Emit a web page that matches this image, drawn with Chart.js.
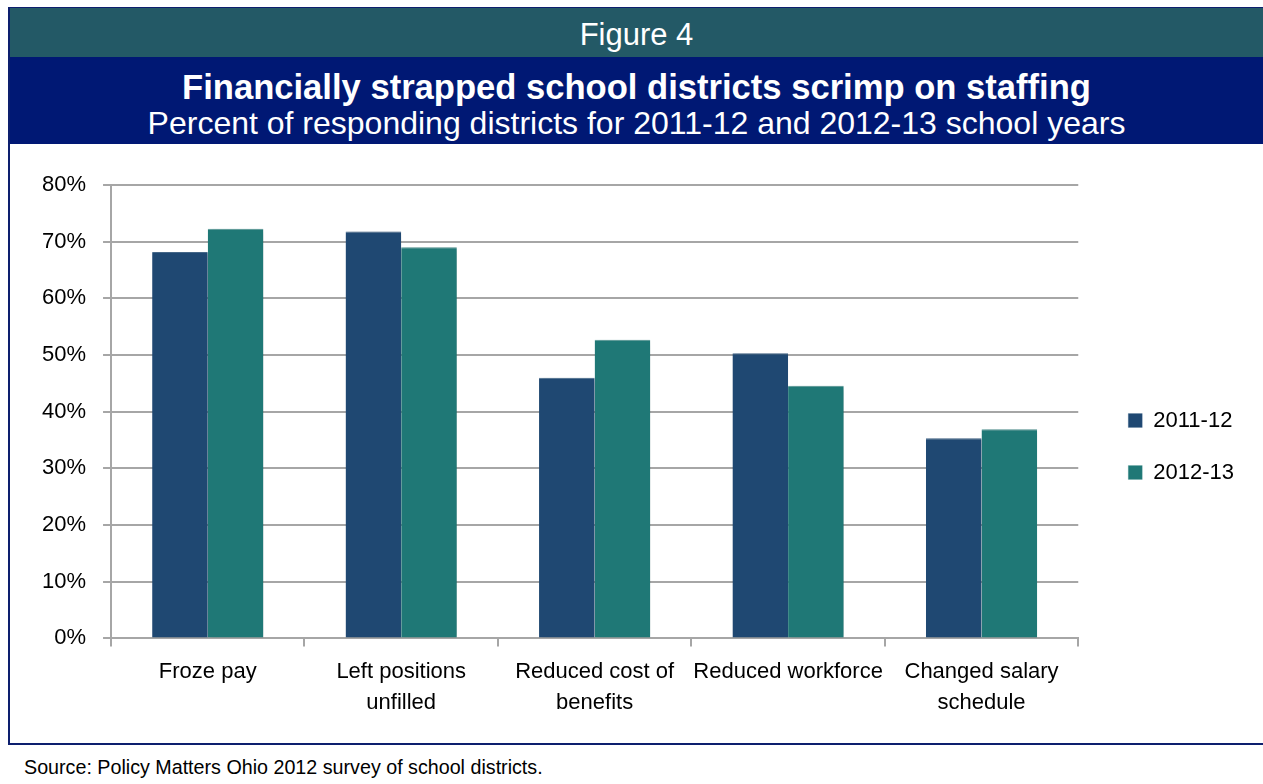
<!DOCTYPE html>
<html>
<head>
<meta charset="utf-8">
<script src="https://cdn.jsdelivr.net/npm/chart.js@4.4.0/dist/chart.umd.min.js"></script>
<style>
  html, body { margin: 0; padding: 0; background: #fff; }
  body { width: 1263px; height: 784px; position: relative; overflow: hidden; font-family: "Liberation Sans", Arial, sans-serif; }
  #frame { position: absolute; left: 8px; top: 7px; width: 1255px; height: 738px; border-left: 2px solid #0d1f6e; border-top: 1px solid #0d1f6e; border-bottom: 2px solid #0d1f6e; box-sizing: border-box; }
  #fig { position: absolute; left: 0; top: 0; right: 0; height: 49px; background: #235966; color: #fff; font-size: 31px; text-align: center; line-height: 54px; }
  #head { position: absolute; left: 0; top: 49px; right: 0; height: 87px; background: #001874; color: #fff; text-align: center; }
  #title { font-size: 34.6px; font-weight: bold; margin-top: 12px; line-height: 36px; }
  #sub { font-size: 32px; line-height: 36px; }
  #wrap { position: absolute; left: 0; top: 136px; width: 1253px; height: 599px; }
  #source { position: absolute; left: 24px; top: 756px; font-size: 19.7px; color: #000; }
</style>
</head>
<body>
<div id="frame">
  <div id="fig">Figure 4</div>
  <div id="head">
    <div id="title">Financially strapped school districts scrimp on staffing</div>
    <div id="sub">Percent of responding districts for 2011-12 and 2012-13 school years</div>
  </div>
  <div id="wrap"><canvas id="chart"></canvas></div>
</div>
<div id="source">Source: Policy Matters Ohio 2012 survey of school districts.</div>
<script>
// categories and values (percent)
const categories = [
    'Froze pay',
    ['Left positions', 'unfilled'],
    ['Reduced cost of', 'benefits'],
    'Reduced workforce',
    ['Changed salary', 'schedule']
];
const years2011 = [68.2, 71.8, 46.0, 50.3, 35.3];
const years2012 = [72.3, 69.0, 52.7, 44.6, 36.9];
const seriesNames = ['2011-12', '2012-13'];

const gridGray = '#a6a6a6';

// soft shadow behind the bars
const barShadow = {
    id: 'barShadow',
    beforeDatasetsDraw(chart) {
        const ctx = chart.ctx;
        ctx.save();
        ctx.shadowColor = 'rgba(0,0,0,0.25)';
        ctx.shadowBlur = 5;
        ctx.shadowOffsetX = 2;
        ctx.shadowOffsetY = 1;
    },
    afterDatasetsDraw(chart) {
        chart.ctx.restore();
    }
};

// nudge the legend a bit away from the plot, like the original
const legendNudge = {
    id: 'legendNudge',
    afterLayout(chart) {
        const lg = chart.legend;
        lg.left += 20; lg.right += 20;
        lg.top -= 10; lg.bottom -= 10;
    }
};

new Chart(document.getElementById('chart').getContext('2d'), {
    type: 'bar',
    data: {
        labels: categories,
        datasets: [
            {
                label: seriesNames[0],
                data: years2011,
                backgroundColor: '#1f4872',
                borderColor: '#4a6d90',
                borderWidth: { top: 1, left: 0, right: 0, bottom: 0 },
                borderSkipped: false
            },
            {
                label: seriesNames[1],
                data: years2012,
                backgroundColor: '#1f7876',
                borderColor: '#5a9c9a',
                borderWidth: { top: 1, left: 0, right: 0, bottom: 0 },
                borderSkipped: false
            }
        ]
    },
    options: {
        responsive: true,
        maintainAspectRatio: false,
        animation: false,
        layout: { padding: { top: 41, right: 39, left: 15, bottom: 15 } },
        categoryPercentage: 0.575,
        barPercentage: 1.0,
        plugins: {
            tooltip: { enabled: false },
            legend: {
                position: 'right',
                align: 'center',
                labels: {
                    boxWidth: 14,
                    boxHeight: 14,
                    padding: 30,
                    color: '#000',
                    font: { family: 'Liberation Sans', size: 22 }
                }
            }
        },
        scales: {
            y: {
                min: 0,
                max: 80,
                ticks: {
                    stepSize: 10,
                    color: '#000',
                    padding: 17,
                    font: { family: 'Liberation Sans', size: 22 },
                    callback: v => v + '%'
                },
                grid: { color: gridGray, lineWidth: 2, tickLength: 8 },
                border: { display: true, color: gridGray, width: 2 }
            },
            x: {
                ticks: {
                    color: '#000',
                    padding: 10,
                    maxRotation: 0,
                    autoSkip: false,
                    font: { family: 'Liberation Sans', size: 22, lineHeight: 1.4 }
                },
                grid: { offset: true, drawOnChartArea: false, color: gridGray, lineWidth: 2, tickLength: 8 },
                border: { display: true, color: gridGray, width: 2 }
            }
        }
    },
    plugins: [barShadow, legendNudge]
});
</script>
</body>
</html>
